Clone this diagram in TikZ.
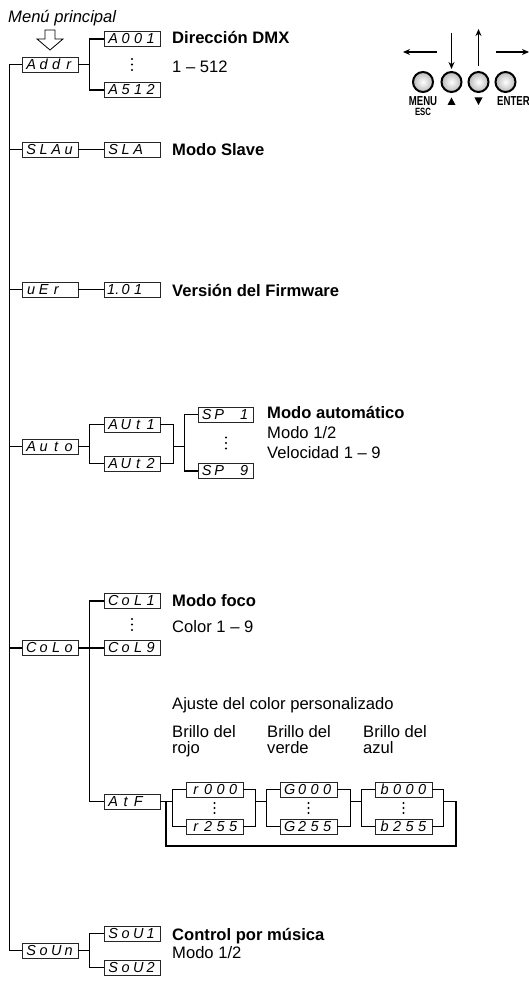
\documentclass[tikz,border=0pt]{standalone}
\usepackage{fontspec}
\setmainfont{Liberation Sans}
\newfontfamily\condfont{Liberation Sans}[FakeStretch=0.74]
\usetikzlibrary{arrows.meta,calc}
\newcommand\dg[4]{\makebox[12.5pt][c]{#1}\makebox[12.5pt][c]{#2}\makebox[12.5pt][c]{#3}\makebox[12.5pt][c]{#4}}
\tikzset{
  segbox/.style={draw=black!85, line width=0.8pt, minimum height=15pt, inner sep=0pt,
    font=\fontsize{14.5}{14.5}\selectfont\itshape},
  lvA/.style={segbox, minimum width=56pt},
  lvS/.style={segbox, minimum width=55pt},
  lvC/.style={segbox, minimum width=57pt},
  lbl/.style={anchor=base west, inner sep=0pt, font=\fontsize{16.6}{19}\selectfont},
  ttl/.style={anchor=base west, inner sep=0pt, font=\fontsize{16.6}{19}\selectfont\bfseries},
  wire/.style={line width=1.25pt},
  key/.style={line width=2pt, inner color=white, outer color=gray!55},
  karrow/.style={-{Stealth[length=7pt,width=6pt]}, line width=1.1pt},
  klbl/.style={anchor=base, inner sep=0pt, font=\fontsize{13}{13}\condfont\bfseries},
  dot/.style={fill=black}
}
\begin{document}
\begin{tikzpicture}[x=1pt,y=-1pt]
\useasboundingbox (0,0) rectangle (529,981);

% heading
\node[lbl, font=\fontsize{16.6}{19}\selectfont\itshape] (menu) at (8,23) {Menú principal};
\draw[line width=0.8pt, fill=white] (45,30) -- (55,30) -- (55,39) -- (63,39) -- (50,50) -- (37,39) -- (45,39) -- cycle;

% keys
\shadedraw[key] (423,82) circle (10);
\shadedraw[key] (451.5,82) circle (10);
\shadedraw[key] (478.5,82) circle (10);
\shadedraw[key] (505.5,82) circle (10);
\coordinate (la1) at (437,52); \coordinate (la2) at (403,52);
\coordinate (da1) at (451.5,33); \coordinate (da2) at (451.5,69);
\coordinate (ua1) at (478.5,66); \coordinate (ua2) at (478.5,29);
\coordinate (ra1) at (496,52); \coordinate (ra2) at (529,52);
\draw[karrow] (la1) -- (la2);
\draw[karrow] (da1) -- (da2);
\draw[karrow] (ua1) -- (ua2);
\draw[karrow] (ra1) -- (ra2);
\node[klbl] (kmenu) at (423,105.5) {MENU};
\node[klbl, font=\fontsize{10.5}{11}\condfont\bfseries] (kesc) at (423,116) {ESC};
\fill (447.5,105) -- (455.5,105) -- (451.5,97.5) -- cycle;
\fill (474.5,97.5) -- (482.5,97.5) -- (478.5,105) -- cycle;
\node[klbl] (kent) at (513.5,105.5) {ENTER};

% level 1
\node[lvA] (addr) at (50,64.5) {\dg{A}{d}{d}{r}};
\node[lvA] (slau) at (50,149.5) {\dg{S}{L}{A}{u}};
\node[lvA] (uer)  at (50,289.5) {\dg{u}{E}{r}{}};
\node[lvA] (auto) at (50,446.5) {\dg{A}{u}{t}{o}};
\node[lvA] (colo) at (50,648) {\dg{C}{o}{L}{o}};
\node[lvA] (soun) at (50,950.5) {\dg{S}{o}{U}{n}};

% level 2
\node[lvA] (a001) at (132,39) {\dg{A}{0}{0}{1}};
\node[lvA] (a512) at (132,90) {\dg{A}{5}{1}{2}};
\node[lvA] (sla)  at (132,149.5) {\dg{S}{L}{A}{}};
\node[lvA] (v101) at (132,289.5) {\dg{1.}{0}{1}{}};
\node[lvA] (aut1) at (132,424.5) {\dg{A}{U}{t}{1}};
\node[lvA] (aut2) at (132,463.5) {\dg{A}{U}{t}{2}};
\node[lvS] (sp1)  at (225.5,414.5) {\dg{S}{P}{}{1}};
\node[lvS] (sp9)  at (225.5,471) {\dg{S}{P}{}{9}};
\node[lvA] (col1) at (132,601) {\dg{C}{o}{L}{1}};
\node[lvA] (col9) at (132,648) {\dg{C}{o}{L}{9}};
\node[lvA] (atf)  at (132,801.5) {\dg{A}{t}{F}{}};
\node[lvC] (r000) at (214.5,789.5) {\dg{r}{0}{0}{0}};
\node[lvC] (r255) at (214.5,826.5) {\dg{r}{2}{5}{5}};
\node[lvC] (g000) at (308.5,789.5) {\dg{G}{0}{0}{0}};
\node[lvC] (g255) at (308.5,826.5) {\dg{G}{2}{5}{5}};
\node[lvC] (b000) at (403.5,789.5) {\dg{b}{0}{0}{0}};
\node[lvC] (b255) at (403.5,826.5) {\dg{b}{2}{5}{5}};
\node[lvA] (sou1) at (132,933.5) {\dg{S}{o}{U}{1}};
\node[lvA] (sou2) at (132,967.5) {\dg{S}{o}{U}{2}};

% main spine
\draw[wire] (addr.west) -- ++(-12,0) |- (soun.west);
\foreach \n in {slau,uer,auto,colo} \draw[wire] (\n.west) -- ++(-12,0);

% Addr
\draw[wire] (addr.east) -- ++(12,0);
\draw[wire] (a001.west) -- ++(-14,0) |- (a512.west);
% SLAu, uEr
\draw[wire] (slau) -- (sla);
\draw[wire] (uer) -- (v101);
% Auto
\draw[wire] (auto.east) -- ++(12,0);
\draw[wire] (aut1.west) -- ++(-14,0) |- (aut2.west);
\draw[wire] (aut1.east) -- ++(13,0) coordinate (ar) |- (aut2.east);
\draw[wire] (ar |- auto) -- ++(12,0);
\draw[wire] (sp1.west) -- ++(-13,0) |- (sp9.west);
% CoLo
\draw[wire] (colo) -- (col9);
\draw[wire] (col1.west) -- ++(-14,0) |- (atf.west);
% AtF
\draw[wire] (atf.east) -- ++(13,0);
\draw[wire] (r000.west) -- ++(-13,0) |- (r255.west);
\draw[wire] (r000.east) -- ++(12,0) coordinate (rr) |- (r255.east);
\draw[wire] (g000.west) -- ++(-13,0) coordinate (gl) |- (g255.west);
\draw[wire] (g000.east) -- ++(13,0) coordinate (gr) |- (g255.east);
\draw[wire] (b000.west) -- ++(-13,0) coordinate (bl) |- (b255.west);
\draw[wire] (b000.east) -- ++(11,0) coordinate (br) |- (b255.east);
\draw[wire] (rr |- atf) -- (gl |- atf);
\draw[wire] (gr |- atf) -- (bl |- atf);
\coordinate (lp1) at (166,801.5);
\coordinate (lp2) at (456,801.5);
\draw[wire] (br |- atf) -- (lp2) -- ++(0,44.5) -| (lp1);
% SoUn
\draw[wire] (soun.east) -- ++(12,0);
\draw[wire] (sou1.west) -- ++(-14,0) |- (sou2.west);

% dots
\foreach \y in {59,64.5,70} \fill[dot] (132,\y) circle (1.2);
\foreach \y in {437.5,443,448.5} \fill[dot] (226,\y) circle (1.2);
\foreach \y in {619,624.5,630} \fill[dot] (132,\y) circle (1.2);
\foreach \x in {214.5,308.5,403.5} \foreach \y in {803,808,813} \fill[dot] (\x,\y) circle (1.2);

% labels
\node[ttl] (t1) at (172,43.5) {Dirección DMX};
\node[lbl] (t1b) at (172,72.5) {1 – 512};
\node[ttl] (t2) at (172,156) {Modo Slave};
\node[ttl] (t3) at (172,296) {Versión del Firmware};
\node[ttl] (t4) at (267,418) {Modo automático};
\node[lbl] (t4b) at (267,438) {Modo 1/2};
\node[lbl] (t4c) at (267,458.5) {Velocidad 1 – 9};
\node[ttl] (t5) at (172,606) {Modo foco};
\node[lbl] (t5b) at (172,632) {Color 1 – 9};
\node[lbl] (t6) at (172,709) {Ajuste del color personalizado};
\node[lbl] (t7a) at (172,737) {Brillo del};
\node[lbl] (t7b) at (172,753) {rojo};
\node[lbl] (t8a) at (267,737) {Brillo del};
\node[lbl] (t8b) at (267,753) {verde};
\node[lbl] (t9a) at (363,737) {Brillo del};
\node[lbl] (t9b) at (363,753) {azul};
\node[ttl] (t10) at (172,940) {Control por música};
\node[lbl] (t10b) at (172,958) {Modo 1/2};
\end{tikzpicture}
\end{document}
